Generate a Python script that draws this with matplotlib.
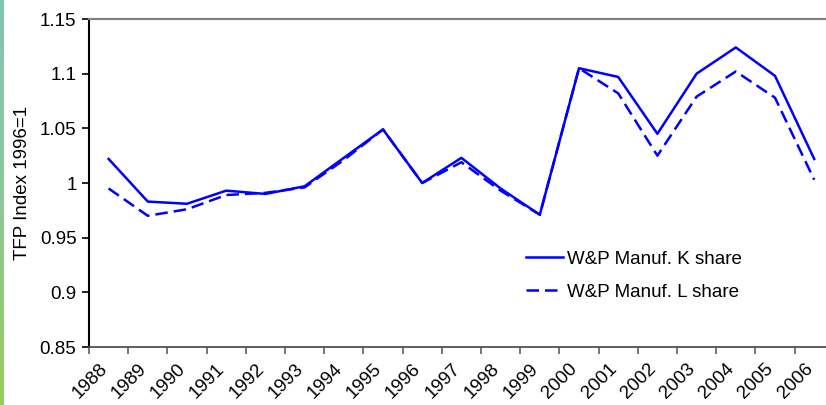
import numpy as np
import matplotlib
matplotlib.use("Agg")
import matplotlib.pyplot as plt
from matplotlib.colors import LinearSegmentedColormap
from matplotlib.transforms import ScaledTranslation

years = [str(y) for y in range(1988, 2007)]
k_share = [1.022, 0.983, 0.981, 0.993, 0.990, 0.997, 1.023, 1.049, 1.000, 1.023,
           0.995, 0.971, 1.105, 1.097, 1.045, 1.100, 1.124, 1.098, 1.022]
l_share = [0.995, 0.970, 0.976, 0.989, 0.991, 0.996, 1.021, 1.049, 1.000, 1.019,
           0.993, 0.971, 1.105, 1.082, 1.025, 1.079, 1.102, 1.078, 1.003]

plt.rcParams['font.family'] = ['Liberation Sans', 'DejaVu Sans']
fs = 13.5

fig = plt.figure(figsize=(8.26, 4.05), dpi=100)

# green strip at the left edge
band = fig.add_axes([0, 0, 4 / 826, 1])
cmap = LinearSegmentedColormap.from_list('band', ['#84c3b3', '#8fc79a', '#98cb5e'])
band.imshow(np.linspace(0, 1, 200).reshape(-1, 1), aspect='auto', cmap=cmap)
band.axis('off')

ax = fig.add_axes([89 / 826, 58 / 405, 744.8 / 826, 328 / 405])
x = np.arange(len(years))
ax.plot(x, k_share, color='#0000ff', lw=1.8, label='W&P Manuf. K share')
ax.plot(x, l_share, color='#0000ff', lw=1.8, dashes=(5.0, 2.4), label='W&P Manuf. L share')

ax.set_xlim(-0.5, len(years) - 0.5)
ax.set_ylim(0.85, 1.15)
ax.set_yticks(np.arange(0.85, 1.151, 0.05))
ax.set_yticklabels(['0.85', '0.9', '0.95', '1', '1.05', '1.1', '1.15'], fontsize=fs)
ax.set_ylabel('TFP Index 1996=1', fontsize=fs, labelpad=6)

# category labels, rotated, placed just left of each category centre
ax.set_xticks(x)
ax.set_xticklabels([])
ax.tick_params(axis='x', which='major', length=0)
off = ScaledTranslation(-10 / 100, -13 / 100, fig.dpi_scale_trans)
for xi, yr in zip(x, years):
    ax.text(xi, 0, yr, transform=ax.get_xaxis_transform() + off, fontsize=fs,
            rotation=45, ha='right', va='top', rotation_mode='anchor', clip_on=False)

ax.set_xticks(np.arange(-0.5, len(years), 1.0), minor=True)
ax.tick_params(axis='x', which='minor', length=5, width=1.2, color='#606060')
ax.tick_params(axis='y', length=5, width=1.2, pad=4)

ax.spines['left'].set_color('black')
ax.spines['left'].set_linewidth(1.5)
ax.spines['bottom'].set_color('#505050')
ax.spines['bottom'].set_linewidth(1.3)
ax.spines['top'].set_color('#808080')
ax.spines['top'].set_linewidth(1.5)
ax.spines['right'].set_visible(False)

ax.legend(loc='upper left', bbox_to_anchor=(420 / 744.8, 0.345), frameon=False,
          fontsize=fs, handlelength=2.0, handletextpad=0.2, labelspacing=0.85)

fig.savefig('out.png', dpi=100)
